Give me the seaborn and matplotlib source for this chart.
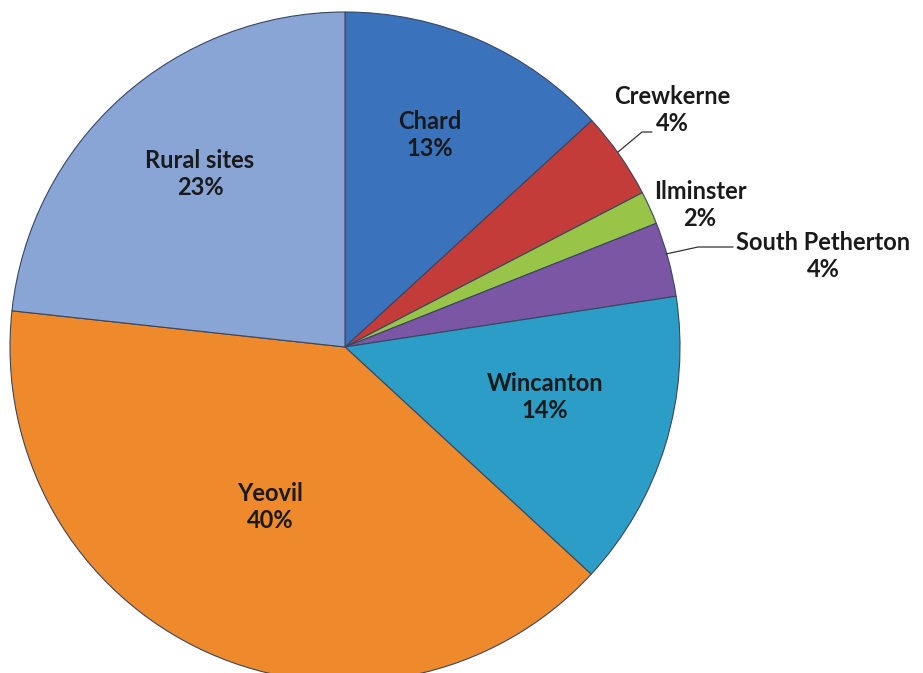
import numpy as np
import seaborn as sns
import matplotlib.pyplot as plt

sites = ['Chard', 'Crewkerne', 'Ilminster', 'South Petherton', 'Wincanton', 'Yeovil', 'Rural sites']
shares = [13.2, 4.2, 1.6, 3.6, 14.3, 39.9, 23.3]
colors = ['#3A72BC', '#C43C39', '#98C548', '#7A56A5', '#2C9DC6', '#EF8A2C', '#89A5D5']

sns.set_style('white')
plt.rcParams['font.family'] = ['Lato', 'DejaVu Sans']

fig = plt.figure(figsize=(9.23, 6.73), dpi=100)
ax = fig.add_axes([0, 0, 1, 1])

# pie in pixel coordinates so labels can be placed like the original
cx, cy, r = 345, 673 - 347, 335
wedges, _ = ax.pie(shares, colors=colors, startangle=90, counterclock=False,
                   radius=r, center=(cx, cy),
                   wedgeprops=dict(edgecolor='#3a4660', linewidth=0.8))

# label positions (pixels from top-left) - inside or outside the slice
label_pos = [(430, 135), (672, 110), (700, 205), (823, 256), (545, 397), (270, 507), (200, 174)]
for name, v, (x, y) in zip(sites, shares, label_pos):
    ax.text(x, 673 - y, f'{name}\n{v:.0f}%', ha='center', va='center',
            fontsize=17, fontweight='bold', color='#1a1a1a', linespacing=1.25)

# leader lines for the small slices
ax.plot([618, 642, 652], [673 - 152, 673 - 132, 673 - 132], color='#333333', lw=0.9)
ax.plot([666, 698, 733], [673 - 254, 673 - 247, 673 - 247], color='#333333', lw=0.9)

ax.set_xlim(0, 923)
ax.set_ylim(0, 673)
ax.set_aspect('equal')
ax.axis('off')

fig.savefig('out.png', dpi=100)
